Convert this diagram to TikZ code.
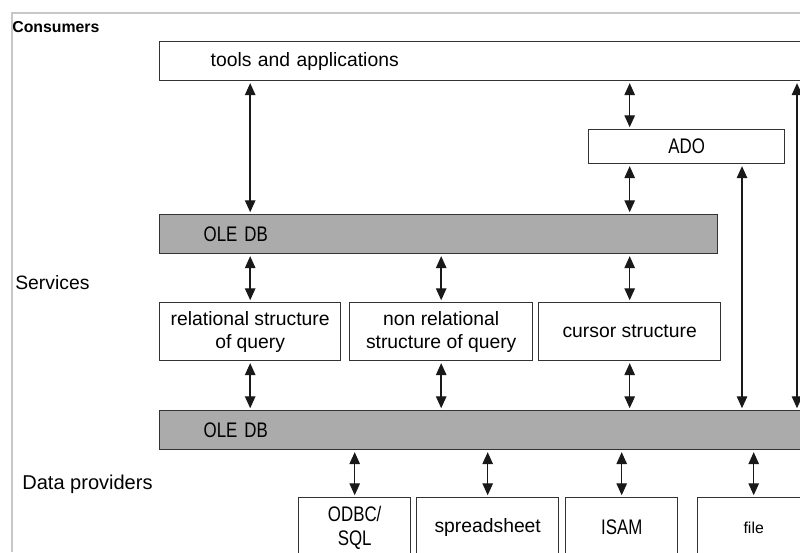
\documentclass[tikz,border=0pt]{standalone}
\usepackage{fontspec}
\setmainfont{Liberation Sans}
\newfontfamily\narrowfont[FakeStretch=0.8]{Liberation Sans}
\usetikzlibrary{arrows.meta}

\tikzset{
    box/.style={draw=black!80,line width=0.8pt,fill=white,inner sep=0pt,align=center,
        font=\fontsize{11}{13}\selectfont,anchor=north west},
    narrowbox/.style={box,font=\narrowfont\fontsize{12}{14}\selectfont},
    oledb/.style={narrowbox,fill=black!33,align=left,inner xsep=0.88cm},
    side/.style={anchor=west,inner sep=0pt},
    arr/.style={{Triangle[length=2.4mm,width=2.1mm]}-{Triangle[length=2.4mm,width=2.1mm]},
        line width=0.8pt,black!90,shorten <=1pt,shorten >=1pt}
}

\begin{document}
\begin{tikzpicture}[x=0.02cm,y=-0.02cm]
    \path[use as bounding box,clip] (0,0) rectangle (800,552);
    \draw[black!22,line width=0.6pt] (800,13)--(12,13)--(12,552);
    \node[side,font=\bfseries\fontsize{9}{10}\selectfont] (consumers) at (12,27) {Consumers};
    \node[side,font=\fontsize{11}{12}\selectfont] (services) at (15,283) {Services};
    \node[side,font=\fontsize{11.4}{12}\selectfont] (providers) at (22,484) {Data providers};
    \node[box,align=left,inner xsep=1.02cm,text width=12cm,minimum height=0.78cm] (tools) at (159,41) {tools and applications};
    \node[narrowbox,minimum width=3.92cm,minimum height=0.68cm] (ado) at (588,129) {ADO};
    \node[oledb,text width=9.4cm,minimum height=0.78cm] (oleA) at (159,214) {OLE DB};
    \node[box,minimum width=3.62cm,minimum height=1.16cm] (rel) at (159,302) {relational structure\\of query};
    \node[box,minimum width=3.66cm,minimum height=1.16cm] (nonrel) at (349,302) {non relational\\structure of query};
    \node[box,minimum width=3.64cm,minimum height=1.16cm] (cursor) at (538,302) {cursor structure};
    \node[oledb,text width=12.28cm,minimum height=0.78cm] (oleB) at (159,410) {OLE DB};
    \node[narrowbox,minimum width=2.24cm,minimum height=1.2cm] (odbc) at (298,497) {ODBC/\\SQL};
    \node[box,minimum width=2.84cm,minimum height=1.2cm] (sheet) at (416,497) {spreadsheet};
    \node[box,font=\fontsize{9}{10}\selectfont,minimum width=2.24cm,minimum height=1.2cm] (file) at (697,497) {file};
    \node[narrowbox,minimum width=2.24cm,minimum height=1.2cm] (isam) at (565,497) {ISAM};
    \coordinate (adoline) at (742,0);
    \coordinate (edgeline) at (797,0);
    \draw[arr] (tools.south -| rel) -- (oleA.north -| rel);
    \draw[arr] (tools.south -| cursor) -- (ado.north -| cursor);
    \draw[arr] (ado.south -| cursor) -- (oleA.north -| cursor);
    \draw[arr] (ado.south -| adoline) -- (oleB.north -| adoline);
    \draw[arr] (tools.south -| edgeline) -- (oleB.north -| edgeline);
    \foreach \s in {rel,nonrel,cursor} {
        \draw[arr] (oleA.south -| \s) -- (\s.north);
        \draw[arr] (\s.south) -- (oleB.north -| \s);
    }
    \foreach \s in {odbc,sheet,isam,file}
        \draw[arr] (oleB.south -| \s) -- (\s.north);
\end{tikzpicture}
\end{document}
